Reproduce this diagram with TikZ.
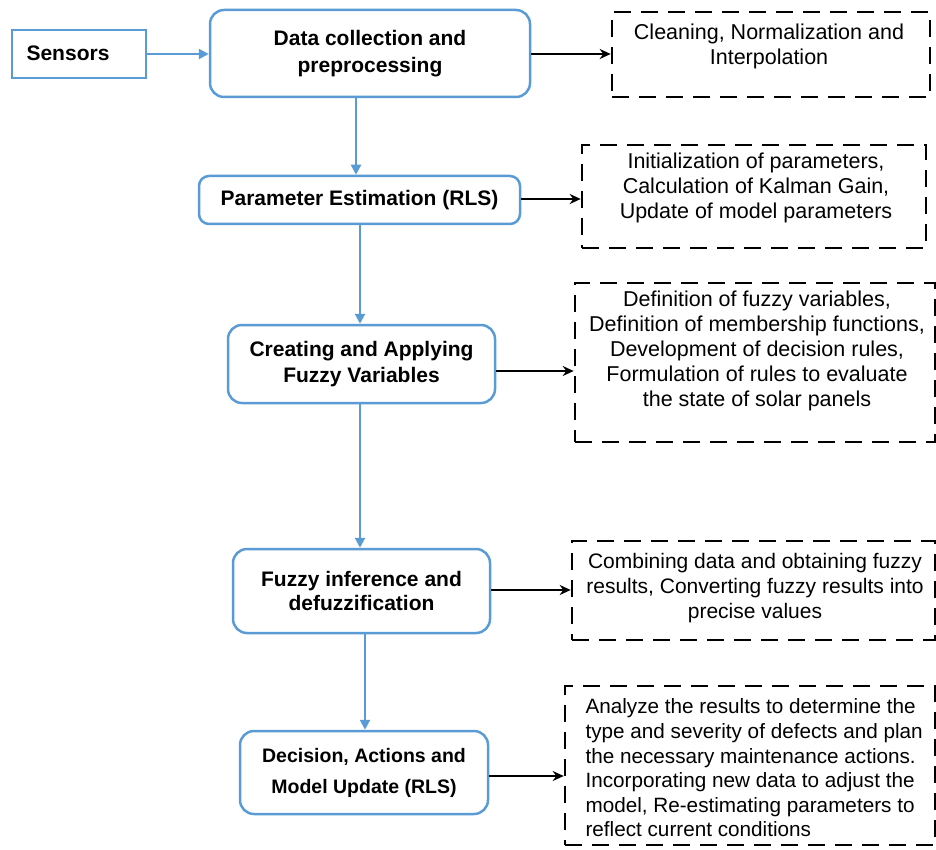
\documentclass[tikz,border=0pt]{standalone}
\usepackage{fontspec}
\setmainfont{Liberation Sans}
\usetikzlibrary{arrows.meta}
\definecolor{bblue}{RGB}{91,155,213}
\begin{document}
\begin{tikzpicture}[x=1pt,y=-1pt,
  txt/.style={font=\fontsize{21.5}{25}\selectfont},
  btxt/.style={font=\fontsize{21}{26}\selectfont\bfseries},
  procbox/.style={draw=bblue,line width=2.5pt,rounded corners=14pt,btxt,align=center,inner sep=0pt},
  notebox/.style={draw=black,line width=2.6pt,dash pattern=on 17pt off 10pt,txt,align=center,inner sep=0pt},
  barrow/.style={draw=bblue,line width=2.2pt,-{Triangle[length=10pt,width=10pt]}},
  karrow/.style={draw=black,line width=2.2pt,-{Stealth[length=11pt,width=10pt]}}]
\useasboundingbox (0,0) rectangle (936,850);
% Sensors
\node[draw=bblue,line width=2.5pt,btxt,minimum width=134pt,minimum height=48pt,inner sep=0pt] (sens) at (79,54) {};
\node[btxt] (senst) at (68,53) {Sensors};
% process boxes
\node[procbox,minimum width=320pt,minimum height=87pt,font=\fontsize{21}{27}\selectfont\bfseries] (dc) at (370,53.5) {Data collection and\\preprocessing};
\node[procbox,minimum width=321pt,minimum height=48pt,rounded corners=10pt] (pe) at (359.5,200) {Parameter Estimation (RLS)};
\node[procbox,minimum width=267pt,minimum height=78pt] (cf) at (361.5,364) {Creating and Applying\\Fuzzy Variables};
\node[procbox,minimum width=257pt,minimum height=84pt,font=\fontsize{21}{24}\selectfont\bfseries] (fi) at (361.5,591) {Fuzzy inference and\\defuzzification};
\node[procbox,minimum width=248pt,minimum height=83pt,font=\fontsize{19.5}{31}\selectfont\bfseries] (dm) at (364,772.5) {Decision, Actions and\\Model Update (RLS)};
% note boxes
\node[notebox,minimum width=318pt,minimum height=85pt] (n1) at (771,54.5) {};
\node[txt,align=center] at (769,46) {Cleaning, Normalization and\\Interpolation};
\node[notebox,minimum width=344pt,minimum height=103pt] (n2) at (754,196.5) {};
\node[txt,align=center] at (756,188) {Initialization of parameters,\\Calculation of Kalman Gain,\\Update of model parameters};
\node[notebox,minimum width=360pt,minimum height=159pt] (n3) at (755,362.5) {};
\node[txt,align=center] at (757,351) {Definition of fuzzy variables,\\Definition of membership functions,\\Development of decision rules,\\Formulation of rules to evaluate\\the state of solar panels};
\node[notebox,minimum width=363pt,minimum height=99pt] (n4) at (753.5,590.5) {};
\node[txt,align=center,font=\fontsize{21}{25}\selectfont] at (755,588) {Combining data and obtaining fuzzy\\results, Converting fuzzy results into\\precise values};
\node[notebox,minimum width=370pt,minimum height=159pt] (n5) at (750,765.5) {};
\node[txt,align=left,anchor=west,font=\fontsize{20.7}{24.6}\selectfont] at (582,768) {Analyze the results to determine the\\type and severity of defects and plan\\the necessary maintenance actions.\\Incorporating new data to adjust the\\model, Re-estimating parameters to\\reflect current conditions};
% connectors
\draw[barrow] (sens.east) -- (dc.west|-sens.east);
\draw[barrow] (dc.south-|356,0) -- (pe.north-|356,0);
\draw[barrow] (pe.south-|360,0) -- (cf.north-|360,0);
\draw[barrow] (cf.south-|360,0) -- (fi.north-|360,0);
\draw[barrow] (fi.south-|365,0) -- (dm.north-|365,0);
\draw[karrow] (dc.east|-0,54) -- (n1.west|-0,54);
\draw[karrow] (pe.east|-0,199) -- (n2.west|-0,199);
\draw[karrow] (cf.east|-0,371) -- (n3.west|-0,371);
\draw[karrow] (fi.east|-0,590) -- (n4.west|-0,590);
\draw[karrow] (dm.east|-0,776) -- (n5.west|-0,776);
\end{tikzpicture}
\end{document}
